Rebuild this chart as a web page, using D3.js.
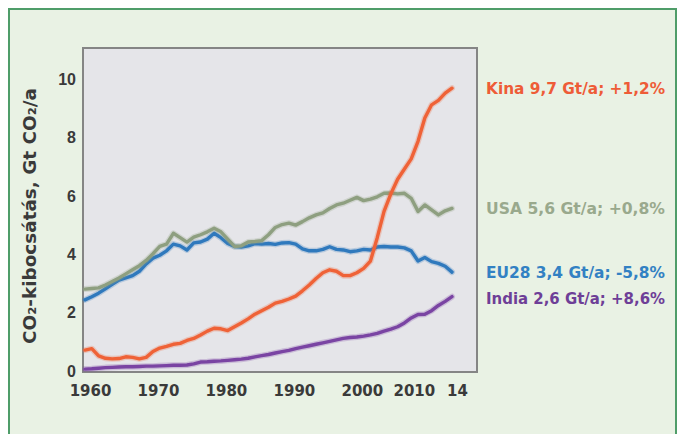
<!DOCTYPE html>
<html>
<head>
<meta charset="utf-8">
<script src="https://cdn.jsdelivr.net/npm/d3@7"></script>
<style>
  html, body { margin: 0; padding: 0; background: #ffffff; }
  svg { display: block; }
  text { font-weight: bold; }
</style>
</head>
<body>
<div id="chart"></div>
<script>
// ---- data ----
const years = d3.range(1960, 2015);
const kina = [0.75,0.80,0.55,0.47,0.45,0.46,0.52,0.50,0.45,0.50,
              0.70,0.82,0.88,0.95,0.98,1.08,1.15,1.27,1.40,1.50,
              1.48,1.42,1.55,1.68,1.82,1.98,2.10,2.22,2.36,2.42,
              2.50,2.60,2.78,2.98,3.20,3.40,3.50,3.45,3.30,3.30,
              3.40,3.55,3.80,4.60,5.50,6.10,6.60,6.95,7.30,7.90,
              8.70,9.15,9.30,9.55,9.72];
const usa = [2.84,2.86,2.88,2.98,3.10,3.22,3.36,3.50,3.64,3.82,
             4.05,4.30,4.38,4.75,4.60,4.45,4.62,4.70,4.80,4.92,
             4.80,4.55,4.30,4.32,4.45,4.47,4.50,4.70,4.95,5.05,
             5.10,5.03,5.15,5.28,5.38,5.45,5.60,5.72,5.78,5.88,
             5.98,5.87,5.92,6.00,6.12,6.13,6.10,6.12,5.95,5.50,
             5.72,5.55,5.38,5.52,5.60];
const eu28 = [2.47,2.58,2.70,2.85,3.00,3.15,3.22,3.30,3.45,3.70,
              3.90,4.00,4.15,4.38,4.32,4.18,4.42,4.45,4.55,4.75,
              4.60,4.40,4.30,4.28,4.32,4.40,4.38,4.40,4.37,4.42,
              4.43,4.38,4.22,4.15,4.15,4.20,4.29,4.20,4.18,4.12,
              4.15,4.20,4.18,4.28,4.30,4.28,4.28,4.25,4.15,3.80,
              3.92,3.78,3.72,3.62,3.42];
const india = [0.10,0.11,0.13,0.15,0.16,0.17,0.18,0.18,0.19,0.20,
               0.20,0.21,0.22,0.23,0.23,0.24,0.28,0.34,0.35,0.37,
               0.38,0.40,0.42,0.44,0.47,0.52,0.56,0.60,0.65,0.70,
               0.74,0.80,0.85,0.90,0.95,1.00,1.05,1.10,1.15,1.18,
               1.20,1.23,1.27,1.32,1.40,1.47,1.55,1.68,1.85,1.97,
               1.98,2.10,2.28,2.42,2.58];
const seriesNames = ["EU28", "USA", "India", "Kina"];
const seriesLabels = ["EU28 3,4 Gt/a; -5,8%", "USA 5,6 Gt/a; +0,8%", "India 2,6 Gt/a; +8,6%", "Kina 9,7 Gt/a; +1,2%"];
const xTicks = [1960, 1970, 1980, 1990, 2000, 2010, 2014];
const xTickLabels = ["1960", "1970", "1980", "1990", "2000", "2010", "14"];
const yTicks = [0, 2, 4, 6, 8, 10];
const yTitle = "CO\u2082-kibocsátás, Gt CO\u2082/a";

// ---- styling ----
const lineColors = { "Kina": "#ef6237", "USA": "#8e9f80", "EU28": "#2f79bd", "India": "#7a44a3" };
const labelColors = { "Kina": "#ee5c37", "USA": "#99a98d", "EU28": "#3281c3", "India": "#6e3f97" };
const valuesByName = { "Kina": kina, "USA": usa, "EU28": eu28, "India": india };
const wideFont = "'DejaVu Sans', Verdana, sans-serif";
const tickFont = "'Liberation Sans', Arial, sans-serif";

const W = 678, H = 434;
const plot = { left: 83, top: 48, right: 477, bottom: 372 };

const svg = d3.select("#chart").append("svg").attr("width", W).attr("height", H);

// outer panel
svg.append("rect").attr("x", 0).attr("y", 0).attr("width", W).attr("height", H).attr("fill", "#ffffff");
svg.append("rect").attr("x", 9).attr("y", 9).attr("width", W - 11).attr("height", H + 20)
  .attr("fill", "#e9f2e4").attr("stroke", "#4f9d69").attr("stroke-width", 2);

// scales
const x = d3.scaleLinear().domain([1960, 2014]).range([85, 452]);
const y = d3.scaleLinear().domain([0, 10]).range([372, 80]);

// plot background
svg.append("rect")
  .attr("x", plot.left).attr("y", plot.top)
  .attr("width", plot.right - plot.left).attr("height", plot.bottom - plot.top)
  .attr("fill", "#e5e5e9").attr("stroke", "#858585").attr("stroke-width", 2);

// lines
const line = d3.line().x((d, i) => x(years[i])).y(d => y(d)).curve(d3.curveLinear);
const lg = svg.append("g");
seriesNames.forEach(name => {
  lg.append("path").datum(valuesByName[name])
    .attr("d", line).attr("fill", "none")
    .attr("stroke", lineColors[name]).attr("stroke-opacity", 0.25)
    .attr("stroke-width", 6).attr("stroke-linejoin", "round").attr("stroke-linecap", "round");
  lg.append("path").datum(valuesByName[name])
    .attr("d", line).attr("fill", "none")
    .attr("stroke", lineColors[name])
    .attr("stroke-width", 3.4).attr("stroke-linejoin", "round").attr("stroke-linecap", "round");
});

// axes
const xAxis = d3.axisBottom(x).tickValues(xTicks).tickFormat((d, i) => xTickLabels[i]).tickSize(0).tickPadding(0);
const gx = svg.append("g").attr("transform", `translate(0,${plot.bottom})`).call(xAxis);
gx.select(".domain").remove();
gx.selectAll("text").attr("dy", null).attr("y", 19)
  .attr("dx", d => d === 2010 ? -11 : (d === 2014 ? 5 : 5))
  .attr("dominant-baseline", "middle")
  .attr("font-size", 15).attr("font-family", wideFont)
  .attr("font-weight", "bold").attr("fill", "#3a3a3a");

const yAxis = d3.axisLeft(y).tickValues(yTicks).tickFormat(d3.format("d")).tickSize(0).tickPadding(0);
const gy = svg.append("g").attr("transform", `translate(${plot.left},0)`).call(yAxis);
gy.select(".domain").remove();
gy.selectAll("text").attr("dy", null).attr("x", -7)
  .attr("dominant-baseline", "middle")
  .attr("font-size", 16).attr("font-family", tickFont)
  .attr("font-weight", "bold").attr("fill", "#3a3a3a");

// y title
svg.append("text")
  .attr("transform", "translate(31,216) rotate(-90)")
  .attr("text-anchor", "middle").attr("dominant-baseline", "middle")
  .attr("font-family", wideFont)
  .attr("font-size", 17.5).attr("fill", "#3a3a3a")
  .attr("textLength", 256).attr("lengthAdjust", "spacingAndGlyphs")
  .text(yTitle);

// right labels
seriesNames.forEach((name, i) => {
  const vals = valuesByName[name];
  svg.append("text")
    .attr("x", 486).attr("y", y(vals[vals.length - 1]) + (name === "India" ? 3 : 1))
    .attr("dominant-baseline", "middle")
    .attr("font-family", wideFont)
    .attr("font-size", 15).attr("fill", labelColors[name])
    .attr("textLength", 179).attr("lengthAdjust", "spacingAndGlyphs")
    .text(seriesLabels[i]);
});
</script>
</body>
</html>
